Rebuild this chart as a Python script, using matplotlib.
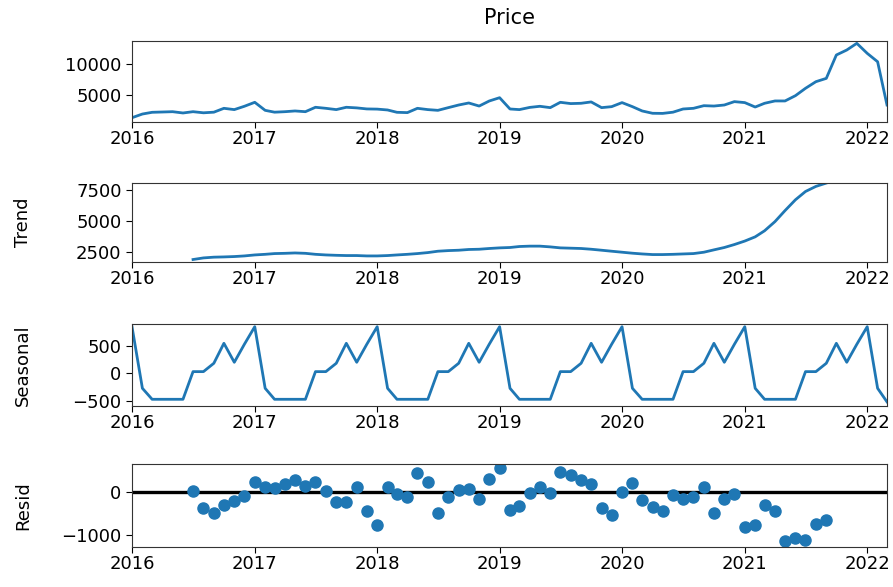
import numpy as np
import pandas as pd
import matplotlib
matplotlib.use('Agg')
from matplotlib import pyplot as plt
import matplotlib.dates as mdates

# monthly data, 2016-01 .. 2022-03
dates = pd.date_range('2016-01-01', '2022-03-01', freq='MS')

price = [1300, 1900, 2180, 2230, 2280, 2070, 2280, 2100, 2200, 2830, 2620, 3160,
         3810, 2500, 2200, 2280, 2400, 2280, 3000, 2830, 2620, 3000, 2900, 2730,
         2700, 2560, 2180, 2130, 2830, 2620, 2500, 2940, 3370, 3700, 3200, 4020,
         4560, 2720, 2620, 2980, 3160, 2940, 3810, 3600, 3650, 3870, 2940, 3100,
         3760, 3100, 2400, 2020, 2000, 2200, 2720, 2830, 3260, 3200, 3370, 3920,
         3760, 3040, 3650, 4030, 4030, 4890, 6090, 7170, 7710, 11520, 12330, 13420,
         11790, 10420, 3370]

# trend only defined from 2016-07 to 2021-09
trend_start = '2016-07-01'
trend = [1910, 2040, 2100, 2120, 2150, 2200,
         2280, 2330, 2390, 2410, 2440, 2410, 2330, 2280, 2250, 2230, 2230, 2200,
         2200, 2230, 2280, 2330, 2390, 2470, 2580, 2630, 2660, 2720, 2740, 2800,
         2850, 2880, 2960, 2990, 2990, 2930, 2850, 2825, 2800, 2740, 2660, 2580,
         2500, 2420, 2360, 2310, 2310, 2330, 2360, 2390, 2500, 2690, 2880, 3120,
         3400, 3740, 4230, 4970, 5860, 6730, 7400, 7810, 8080]

# one year of the seasonal component (Jan..Dec)
season_year = [847, -273, -473, -473, -473, -473, 30, 30, 182, 545, 200, 527]
seasonal = (season_year * 7)[:len(dates)]
seasonal[-1] = -520

resid = [20, -380, -480, -305, -205, -100,
         230, 100, 76, 175, 267, 130, 230, 23, -230, -230, 100, -435,
         -763, 115, -53, -130, 420, 214, -480, -115, 38, 53, -175, 282,
         540, -420, -320, -23, 115, -38, 458, 380, 267, 175, -380, -534,
         0, 190, -190, -343, -435, -76, -175, -115, 100, -480, -175, -53,
         -816, -763, -305, -435, -1145, -1068, -1122, -740, -650]

trend_idx = pd.date_range(trend_start, periods=len(trend), freq='MS')
resid_idx = pd.date_range(trend_start, periods=len(resid), freq='MS')

blue = '#1f77b4'
plt.rcParams['font.family'] = ['DejaVu Sans']
plt.rcParams['font.size'] = 13

fig = plt.figure(figsize=(8.93, 5.87), dpi=100)
W, H = 893, 587
left, right = 132, 887
tops = [41, 183, 324, 464]
bottoms = [122, 262, 406, 547]
axes = []
for t, b in zip(tops, bottoms):
    axes.append(fig.add_axes([left / W, 1 - b / H, (right - left) / W, (b - t) / H]))

ax1, ax2, ax3, ax4 = axes
ax1.plot(dates, price, color=blue, lw=2)
ax1.set_title('Price', fontsize=15, pad=12)
ax1.set_ylim(600, 13800)
ax1.set_yticks([5000, 10000])

ax2.plot(trend_idx, trend, color=blue, lw=2)
ax2.set_ylabel('Trend')
ax2.set_ylim(1710, 8085)
ax2.set_yticks([2500, 5000, 7500])

ax3.plot(dates, seasonal, color=blue, lw=2)
ax3.set_ylabel('Seasonal')
ax3.set_ylim(-595, 896)
ax3.set_yticks([-500, 0, 500])

ax4.plot(resid_idx, resid, marker='o', linestyle='none', color=blue, markersize=8)
ax4.axhline(0, color='black', lw=2.4, zorder=0)
ax4.set_ylabel('Resid')
ax4.set_ylim(-1272, 634)
ax4.set_yticks([-1000, 0])

for ax in axes:
    ax.set_xlim(dates[0], dates[-1])
    ax.xaxis.set_major_locator(mdates.YearLocator())
    ax.xaxis.set_major_formatter(mdates.DateFormatter('%Y'))
    ax.tick_params(labelsize=13, length=4)
    ax.tick_params(axis='x', pad=1.5)
    for s in ax.spines.values():
        s.set_color('#333333')
    ax.yaxis.set_label_coords(-0.132, 0.5)

fig.savefig('out.png', dpi=100)
